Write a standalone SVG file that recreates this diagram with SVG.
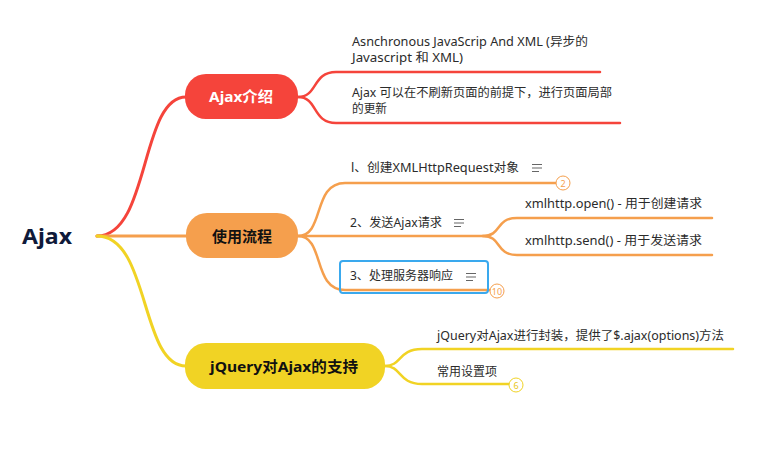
<svg xmlns="http://www.w3.org/2000/svg" width="757" height="451" viewBox="0 0 757 451">
<style>
.t{font-family:"Noto Sans","Noto Sans CJK SC",sans-serif;font-size:12px;fill:#2b2b2b}
.nt{font-family:"Noto Sans","Noto Sans CJK SC",sans-serif;font-size:15px;font-weight:bold}
.c{fill:none;stroke-linecap:round;stroke-linejoin:round}
.red{stroke:#f5443b}
.org{stroke:#f59f4d}
.yel{stroke:#f1d324}
.note{stroke:#666;stroke-width:1.2;fill:none}
.badge{fill:#fff;stroke-width:1}
.bt{font-family:"Noto Sans",sans-serif;font-size:9px;text-anchor:middle}
</style>
<rect width="757" height="451" fill="#fff"/>
<g id="connectors">
  <path class="c red" stroke-width="3" d="M97,236 C150,236 140,97 186,97"/>
  <path class="c org" stroke-width="3" d="M97,236 L186,236"/>
  <path class="c yel" stroke-width="3" d="M97,236 C150,236 140,366 186,366"/>
  <path class="c red" stroke-width="2.5" d="M298,97 C318,97 312,72 336,72 L600,72"/>
  <path class="c red" stroke-width="2.5" d="M298,97 C318,97 312,123 336,123 L620,123"/>
  <path class="c org" stroke-width="2.5" d="M298,236 C325,236 312,183 345,183 L556,183"/>
  <path class="c org" stroke-width="2.5" d="M298,236 L483,236"/>
  <path class="c org" stroke-width="2.5" d="M483,236 C502,236 495,218 517,218 L712,218"/>
  <path class="c org" stroke-width="2.5" d="M483,236 C502,236 495,255 517,255 L712,255"/>
  <path class="c org" stroke-width="2.5" d="M298,236 C325,236 312,290 345,290 L490,290"/>
  <path class="c yel" stroke-width="2.5" d="M385,366 C402,366 398,349 422,349 L733,349"/>
  <path class="c yel" stroke-width="2.5" d="M385,366 C402,366 398,384 422,384 L509,384"/>
</g>
<g id="root">
  <text x="22" y="244" font-family="Noto Sans, sans-serif" font-size="22" font-weight="bold" fill="#0f1a3a" textLength="50" lengthAdjust="spacingAndGlyphs">Ajax</text>
</g>
<g id="node-intro">
  <rect x="185" y="74" width="113" height="45" rx="21" fill="#f5443b"/>
  <text class="nt" x="209" y="102" fill="#fff" textLength="64" lengthAdjust="spacingAndGlyphs">Ajax介绍</text>
</g>
<g id="node-flow">
  <rect x="186" y="213" width="112" height="45" rx="21" fill="#f59f4d"/>
  <text class="nt" x="212" y="242" fill="#111" textLength="60" lengthAdjust="spacingAndGlyphs">使用流程</text>
</g>
<g id="node-jquery">
  <rect x="185" y="343" width="200" height="46" rx="21" fill="#f1d324"/>
  <text class="nt" x="210" y="372" fill="#111" textLength="148" lengthAdjust="spacingAndGlyphs">jQuery对Ajax的支持</text>
</g>
<g id="intro-1">
  <text class="t" x="352" y="46" textLength="236" lengthAdjust="spacingAndGlyphs">Asnchronous JavaScrip And XML (异步的</text>
  <text class="t" x="352" y="62" textLength="111" lengthAdjust="spacingAndGlyphs">Javascript 和 XML)</text>
</g>
<g id="intro-2">
  <text class="t" x="352" y="97" textLength="260" lengthAdjust="spacingAndGlyphs">Ajax 可以在不刷新页面的前提下，进行页面局部</text>
  <text class="t" x="352" y="113" textLength="35" lengthAdjust="spacingAndGlyphs">的更新</text>
</g>
<g id="flow-1">
  <text class="t" x="351" y="172" textLength="168" lengthAdjust="spacingAndGlyphs">l、创建XMLHttpRequest对象</text>
  <path class="note" d="M532,164.5 H542 M532,168 H542 M532,171.5 H539"/>
  <circle class="badge" cx="563" cy="183" r="7" stroke="#f59f4d"/>
  <text class="bt" x="563" y="186.5" fill="#f59f4d">2</text>
</g>
<g id="flow-2">
  <text class="t" x="350" y="227" textLength="92" lengthAdjust="spacingAndGlyphs">2、发送Ajax请求</text>
  <path class="note" d="M454,219.5 H464 M454,223 H464 M454,226.5 H461"/>
</g>
<g id="flow-2a">
  <text class="t" x="525" y="208" textLength="177" lengthAdjust="spacingAndGlyphs">xmlhttp.open() - 用于创建请求</text>
</g>
<g id="flow-2b">
  <text class="t" x="525" y="245" textLength="177" lengthAdjust="spacingAndGlyphs">xmlhttp.send() - 用于发送请求</text>
</g>
<g id="flow-3">
  <rect x="340" y="261" width="148" height="32" rx="3" fill="none" stroke="#3aa9ee" stroke-width="2"/>
  <text class="t" x="350" y="280" textLength="103" lengthAdjust="spacingAndGlyphs">3、处理服务器响应</text>
  <path class="note" d="M466,273.5 H476 M466,277 H476 M466,280.5 H473"/>
  <circle class="badge" cx="497" cy="291" r="7" stroke="#f59f4d"/>
  <text class="bt" x="497" y="294.5" fill="#f59f4d">10</text>
</g>
<g id="jq-1">
  <text class="t" x="437" y="340" textLength="287" lengthAdjust="spacingAndGlyphs">jQuery对Ajax进行封装，提供了$.ajax(options)方法</text>
</g>
<g id="jq-2">
  <text class="t" x="437" y="376" textLength="60" lengthAdjust="spacingAndGlyphs">常用设置项</text>
  <circle class="badge" cx="516" cy="385" r="7" stroke="#f1d324"/>
  <text class="bt" x="516" y="388.5" fill="#e8c61a">6</text>
</g>
</svg>
